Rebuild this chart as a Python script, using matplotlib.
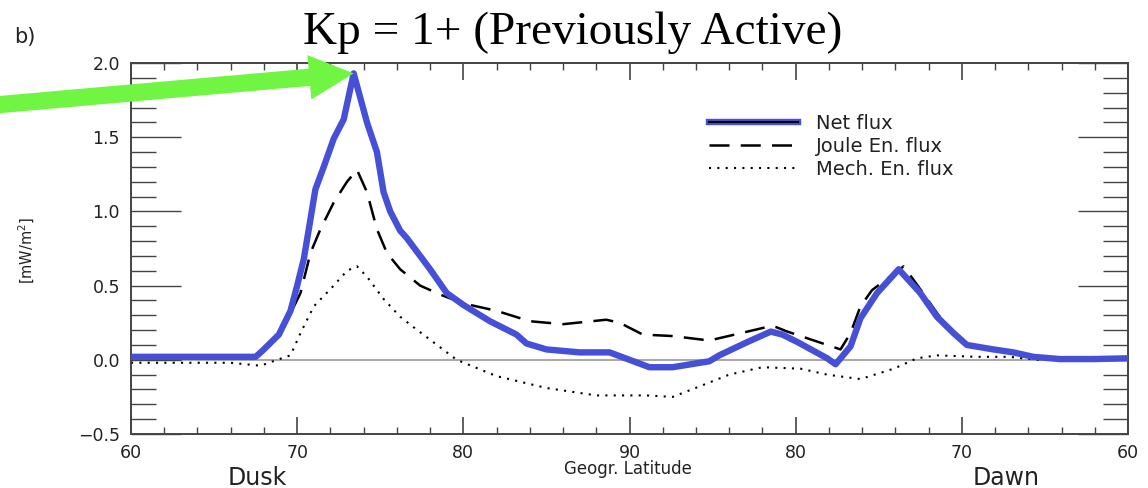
import matplotlib as mpl
mpl.use('Agg')
import matplotlib.pyplot as plt
from matplotlib.legend_handler import HandlerTuple
from matplotlib.lines import Line2D
from matplotlib.ticker import MultipleLocator

# pass coordinate: 0 = 60 deg dusk, 30 = pole, 60 = 60 deg dawn
net_s = [0, 7.5, 7.9, 8.9, 9.6, 10.0, 10.4, 10.7, 11.1, 11.6, 12.2, 12.8, 13.4,
         14.2, 14.8, 15.2, 15.6, 16.2, 16.6, 18.0, 19.0, 20.0, 21.6, 23.2, 23.8,
         25.0, 27.0, 28.8, 30.0, 31.2, 32.6, 34.8, 35.4, 37.1, 38.5, 39.2, 40.1,
         41.9, 42.4, 43.3, 43.9, 44.9, 46.2, 47.5, 48.5, 49.5, 50.3, 51.9, 53.1,
         54.3, 55.9, 57.9, 60.0]
net_flux = [0.02, 0.02, 0.06, 0.17, 0.33, 0.50, 0.68, 0.88, 1.15, 1.30, 1.49, 1.62, 1.93,
            1.60, 1.40, 1.13, 1.00, 0.87, 0.82, 0.61, 0.45, 0.37, 0.26, 0.17, 0.11,
            0.07, 0.05, 0.05, 0.00, -0.05, -0.05, -0.01, 0.03, 0.12, 0.19, 0.17, 0.12,
            0.01, -0.03, 0.09, 0.28, 0.45, 0.61, 0.45, 0.29, 0.18, 0.10, 0.07, 0.05,
            0.02, 0.005, 0.005, 0.01]

joule_s = [0, 7.6, 8.4, 9.2, 10.2, 10.8, 11.4, 12.2, 13.0, 13.6, 14.2, 14.8, 15.4,
           16.2, 17.4, 18.6, 20.0, 22.0, 24.0, 26.0, 28.6, 29.4, 30.8, 32.6, 34.8,
           37.1, 38.6, 39.5, 42.7, 43.3, 43.9, 44.6, 46.5, 47.6, 48.6, 49.6, 50.5,
           52.0, 54.0, 56.0, 60.0]
joule_flux = [0.02, 0.02, 0.10, 0.22, 0.45, 0.72, 0.88, 1.06, 1.20, 1.28, 1.13, 0.88, 0.72,
              0.61, 0.50, 0.44, 0.38, 0.33, 0.26, 0.24, 0.27, 0.25, 0.17, 0.16, 0.13,
              0.19, 0.23, 0.19, 0.07, 0.18, 0.36, 0.47, 0.63, 0.46, 0.30, 0.18, 0.10,
              0.06, 0.03, 0.01, 0.01]

mech_s = [0, 6.0, 7.8, 8.8, 9.6, 10.2, 11.0, 12.2, 13.0, 13.6, 14.2, 15.2, 16.2,
          17.0, 19.6, 22.0, 25.0, 28.0, 31.0, 32.6, 34.2, 36.0, 38.0, 40.3, 41.9,
          43.9, 45.9, 47.3, 48.5, 50.9, 52.9, 54.5, 57.0, 60.0]
mech_flux = [-0.02, -0.02, -0.04, 0.00, 0.03, 0.18, 0.36, 0.50, 0.60, 0.63, 0.56, 0.41, 0.29,
             0.22, 0.00, -0.11, -0.19, -0.24, -0.24, -0.25, -0.18, -0.10, -0.05, -0.06, -0.10,
             -0.13, -0.06, 0.01, 0.03, 0.02, 0.02, 0.00, 0.00, 0.00]

tick_pos = [0, 10, 20, 30, 40, 50, 60]
tick_lab = ['60', '70', '80', '90', '80', '70', '60']

blue = '#4650d6'
green = '#6ff542'
gray = '#444444'
txt = '#222222'

fig = plt.figure(figsize=(11.48, 4.88), dpi=100)
ax = fig.add_axes([131/1148, 54/488, 997/1148, 371/488])

ax.axhline(0, color='#aaaaaa', lw=1.5, zorder=1)
ax.plot(mech_s, mech_flux, color='black', lw=1.5, ls=(0, (1, 3)), zorder=2)
ax.plot(joule_s, joule_flux, color='black', lw=1.8, ls=(0, (8, 4.5)), zorder=3)
ax.plot(net_s, net_flux, color='black', lw=1.5, zorder=4)
ax.plot(net_s, net_flux, color=blue, lw=4.6, zorder=5,
        solid_joinstyle='round', solid_capstyle='round')

ax.set_xlim(0, 60)
ax.set_ylim(-0.5, 2.0)
ax.set_xticks(tick_pos)
ax.set_xticklabels(tick_lab)
ax.xaxis.set_minor_locator(MultipleLocator(2))
ax.set_yticks([-0.5, 0.0, 0.5, 1.0, 1.5, 2.0])
ax.set_yticklabels(['\u22120.5', '0.0', '0.5', '1.0', '1.5', '2.0'])
ax.yaxis.set_minor_locator(MultipleLocator(0.1))

for sp in ax.spines.values():
    sp.set_color(gray)
    sp.set_linewidth(1.4)
ax.tick_params(axis='both', which='both', direction='in', top=True, right=True,
               color=gray, labelcolor=txt, labelsize=12.5)
ax.tick_params(axis='x', which='major', length=12, width=1.2, pad=7)
ax.tick_params(axis='x', which='minor', length=5, width=1.0)
ax.tick_params(axis='y', which='major', length=36, width=1.0, pad=8)
ax.tick_params(axis='y', which='minor', length=18, width=1.0)

# legend
net_h = (Line2D([], [], color=blue, lw=4.6), Line2D([], [], color='black', lw=1.5))
joule_h = Line2D([], [], color='black', lw=1.8, ls=(0, (8, 4.5)))
mech_h = Line2D([], [], color='black', lw=1.5, ls=(0, (1, 3)))
ax.legend([net_h, joule_h, mech_h], ['Net flux', 'Joule En. flux', 'Mech. En. flux'],
          handler_map={tuple: HandlerTuple(ndivide=1)},
          loc='upper left', bbox_to_anchor=(0.562, 0.91), frameon=False,
          prop={'size': 14}, labelcolor=txt,
          handlelength=4.6, handletextpad=0.9, labelspacing=0.2)

fig.text(573/1148, 1 - 33/488, 'Kp = 1+ (Previously Active)', ha='center', va='center',
         family='Liberation Serif', fontsize=34)
fig.text(14/1148, 1 - 37/488, 'b)', ha='left', va='center', fontsize=15, color=txt)
fig.text(27/1148, 1 - 250/488, '[mW/m$^2$]', rotation=90, ha='center', va='center',
         fontsize=10.5, color=txt)
fig.text(257/1148, 1 - 478/488, 'Dusk', ha='center', va='center', fontsize=17, color=txt)
fig.text(628/1148, 1 - 469/488, 'Geogr. Latitude', ha='center', va='center', fontsize=12,
         color=txt)
fig.text(1006/1148, 1 - 478/488, 'Dawn', ha='center', va='center', fontsize=17, color=txt)

# green pointer arrow onto the dusk peak
ax.annotate('', xy=(net_s[12], net_flux[12]), xycoords='data',
            xytext=(-5, 488 - 105), textcoords='figure pixels',
            arrowprops=dict(arrowstyle='simple,head_length=1.6,head_width=1.6,tail_width=0.62',
                            mutation_scale=20, color=green, lw=0, shrinkA=0, shrinkB=0),
            annotation_clip=False, zorder=10)

fig.savefig('out.png', dpi=100)
